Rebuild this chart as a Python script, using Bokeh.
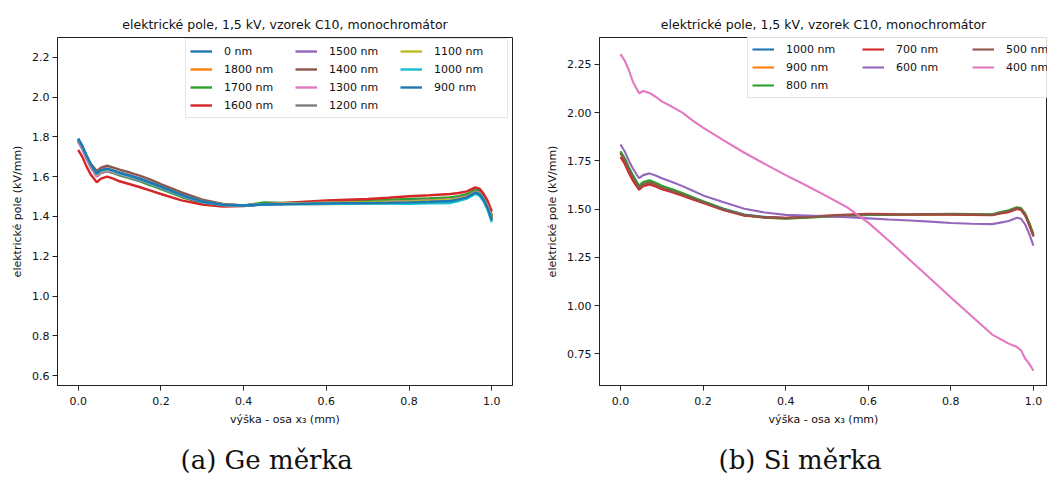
from bokeh.plotting import figure
from bokeh.layouts import row
from bokeh.models import (Legend, LegendItem, FixedTicker, PrintfTickFormatter,
                          Title, Range1d, ColumnDataSource)
from bokeh.embed import file_html
from bokeh.resources import INLINE

# ---------------- data ----------------
X = [0.0, 0.01, 0.02, 0.03, 0.045, 0.055, 0.07, 0.085, 0.1, 0.125, 0.15, 0.175, 0.2,
     0.25, 0.3, 0.35, 0.4, 0.45, 0.5, 0.55, 0.6, 0.65, 0.7, 0.75, 0.8, 0.85, 0.9,
     0.92, 0.94, 0.96, 0.97, 0.98, 0.99, 1.0]

# (a) Ge scale
ge_0nm = [1.790,1.752,1.705,1.662,1.612,1.628,1.636,1.626,1.615,1.600,1.584,1.565,1.545,1.505,1.473,1.458,1.455,1.462,1.465,1.467,1.470,1.471,1.473,1.475,1.478,1.482,1.487,1.494,1.503,1.528,1.522,1.495,1.455,1.395]
ge_1800nm = [1.785,1.748,1.700,1.658,1.608,1.624,1.632,1.622,1.611,1.596,1.580,1.561,1.541,1.501,1.470,1.456,1.454,1.463,1.466,1.469,1.473,1.475,1.478,1.481,1.485,1.489,1.494,1.500,1.510,1.533,1.527,1.500,1.460,1.400]
ge_1700nm = [1.782,1.745,1.697,1.655,1.605,1.620,1.628,1.618,1.607,1.592,1.576,1.557,1.537,1.498,1.467,1.455,1.456,1.470,1.468,1.470,1.474,1.477,1.480,1.483,1.488,1.491,1.496,1.502,1.512,1.535,1.530,1.503,1.462,1.405]
ge_1600nm = [1.735,1.700,1.652,1.612,1.572,1.590,1.600,1.590,1.577,1.562,1.547,1.530,1.513,1.481,1.460,1.450,1.452,1.462,1.468,1.474,1.480,1.484,1.488,1.494,1.502,1.507,1.513,1.518,1.526,1.546,1.540,1.515,1.478,1.425]
ge_1500nm = [1.775,1.738,1.690,1.648,1.600,1.618,1.628,1.620,1.610,1.596,1.581,1.563,1.543,1.503,1.471,1.457,1.455,1.462,1.465,1.467,1.469,1.470,1.472,1.474,1.477,1.481,1.486,1.493,1.502,1.525,1.519,1.492,1.452,1.392]
ge_1400nm = [1.780,1.746,1.702,1.666,1.628,1.645,1.655,1.646,1.636,1.621,1.604,1.585,1.563,1.521,1.485,1.463,1.456,1.461,1.462,1.463,1.463,1.464,1.466,1.468,1.470,1.474,1.480,1.490,1.500,1.524,1.516,1.490,1.450,1.398]
ge_1300nm = [1.778,1.742,1.695,1.652,1.604,1.622,1.632,1.624,1.614,1.600,1.585,1.567,1.547,1.507,1.474,1.458,1.455,1.461,1.464,1.466,1.468,1.469,1.471,1.473,1.476,1.480,1.485,1.492,1.501,1.524,1.518,1.491,1.451,1.390]
ge_1200nm = [1.784,1.748,1.702,1.660,1.612,1.630,1.640,1.631,1.621,1.606,1.590,1.571,1.551,1.510,1.477,1.460,1.456,1.461,1.463,1.465,1.467,1.468,1.470,1.472,1.474,1.478,1.483,1.490,1.499,1.522,1.516,1.489,1.449,1.388]
ge_1100nm = [1.786,1.750,1.703,1.660,1.611,1.627,1.636,1.626,1.616,1.601,1.585,1.566,1.546,1.506,1.474,1.459,1.455,1.462,1.465,1.467,1.469,1.470,1.472,1.474,1.476,1.479,1.484,1.490,1.499,1.522,1.516,1.488,1.446,1.385]
ge_1000nm = [1.788,1.752,1.706,1.663,1.614,1.630,1.638,1.628,1.617,1.602,1.586,1.567,1.547,1.506,1.473,1.458,1.455,1.460,1.462,1.463,1.464,1.464,1.465,1.465,1.464,1.466,1.468,1.478,1.490,1.513,1.505,1.476,1.432,1.372]
ge_900nm = [1.792,1.755,1.708,1.665,1.616,1.633,1.641,1.631,1.620,1.605,1.589,1.570,1.550,1.509,1.475,1.459,1.455,1.460,1.462,1.464,1.466,1.467,1.468,1.469,1.471,1.474,1.478,1.486,1.496,1.520,1.513,1.485,1.442,1.380]

# (b) Si scale
si_1000nm = [1.795,1.760,1.712,1.670,1.617,1.634,1.645,1.632,1.617,1.600,1.580,1.560,1.540,1.502,1.472,1.460,1.454,1.458,1.463,1.467,1.471,1.470,1.470,1.472,1.473,1.471,1.470,1.480,1.488,1.504,1.499,1.470,1.420,1.362]
si_900nm = [1.790,1.755,1.707,1.665,1.612,1.630,1.640,1.628,1.613,1.596,1.577,1.557,1.537,1.498,1.468,1.456,1.452,1.457,1.462,1.466,1.470,1.469,1.469,1.471,1.472,1.470,1.469,1.479,1.487,1.503,1.498,1.469,1.418,1.360]
si_800nm = [1.800,1.765,1.718,1.676,1.622,1.640,1.650,1.637,1.621,1.603,1.583,1.562,1.541,1.500,1.468,1.455,1.450,1.455,1.461,1.466,1.470,1.471,1.472,1.474,1.475,1.474,1.473,1.485,1.494,1.510,1.505,1.478,1.428,1.370]
si_700nm = [1.770,1.735,1.688,1.647,1.600,1.618,1.628,1.617,1.603,1.587,1.569,1.550,1.531,1.494,1.466,1.457,1.455,1.461,1.467,1.472,1.476,1.474,1.472,1.473,1.472,1.470,1.468,1.477,1.484,1.500,1.495,1.466,1.416,1.358]
si_600nm = [1.835,1.800,1.752,1.710,1.660,1.676,1.685,1.674,1.660,1.640,1.619,1.595,1.571,1.535,1.502,1.482,1.470,1.466,1.462,1.458,1.452,1.446,1.441,1.435,1.428,1.424,1.422,1.430,1.438,1.455,1.450,1.420,1.370,1.310]
si_500nm = [1.788,1.752,1.705,1.663,1.610,1.628,1.638,1.626,1.611,1.594,1.575,1.555,1.535,1.497,1.468,1.457,1.453,1.458,1.464,1.469,1.473,1.472,1.472,1.474,1.474,1.472,1.470,1.481,1.489,1.506,1.500,1.472,1.422,1.364]
si_400nm = [2.303,2.270,2.222,2.160,2.100,2.112,2.102,2.082,2.058,2.030,2.000,1.958,1.922,1.856,1.792,1.733,1.676,1.622,1.566,1.508,1.430,1.336,1.238,1.140,1.042,0.946,0.850,0.826,0.803,0.785,0.768,0.725,0.698,0.662]

ge_labels = ["0 nm", "1800 nm", "1700 nm", "1600 nm", "1500 nm", "1400 nm",
             "1300 nm", "1200 nm", "1100 nm", "1000 nm", "900 nm"]
ge_series = [ge_0nm, ge_1800nm, ge_1700nm, ge_1600nm, ge_1500nm, ge_1400nm,
             ge_1300nm, ge_1200nm, ge_1100nm, ge_1000nm, ge_900nm]
si_labels = ["1000 nm", "900 nm", "800 nm", "700 nm", "600 nm", "500 nm", "400 nm"]
si_series = [si_1000nm, si_900nm, si_800nm, si_700nm, si_600nm, si_500nm, si_400nm]

x_ticks = [0.0, 0.2, 0.4, 0.6, 0.8, 1.0]
ge_y_ticks = [0.6, 0.8, 1.0, 1.2, 1.4, 1.6, 1.8, 2.0, 2.2]
si_y_ticks = [0.75, 1.00, 1.25, 1.50, 1.75, 2.00, 2.25]

TAB10 = ["#1f77b4", "#ff7f0e", "#2ca02c", "#d62728", "#9467bd",
         "#8c564b", "#e377c2", "#7f7f7f", "#bcbd22", "#17becf"]

TITLE = "elektrické pole, 1,5 kV, vzorek C10, monochromátor"
XLABEL = "výška - osa x₃ (mm)"
YLABEL = "elektrické pole (kV/mm)"
FONT = "DejaVu Sans"


def make_panel(width, height, xr, yr, yticks, yfmt, borders, caption, cap_offset, ylab_standoff):
    p = figure(width=width, height=height, output_backend="svg", toolbar_location=None,
               x_range=Range1d(*xr), y_range=Range1d(*yr),
               min_border_left=borders[0], min_border_right=borders[1],
               min_border_top=borders[2], min_border_bottom=borders[3])
    p.title.text = TITLE
    p.title.align = "center"
    p.title.text_font = FONT
    p.title.text_font_size = "12.5px"
    p.title.text_font_style = "normal"
    p.title.text_color = "#111111"
    p.title.standoff = 11
    p.grid.visible = False
    p.outline_line_color = "#222222"
    p.outline_line_width = 1
    p.background_fill_color = "white"
    p.border_fill_color = "white"
    for ax in (p.xaxis[0], p.yaxis[0]):
        ax.axis_line_color = "#222222"
        ax.major_tick_line_color = "#222222"
        ax.major_tick_out = 5
        ax.major_tick_in = 0
        ax.minor_tick_line_color = None
        ax.major_label_text_font = FONT
        ax.major_label_text_font_size = "11px"
        ax.major_label_text_color = "#111111"
        ax.axis_label_text_font = FONT
        ax.axis_label_text_font_size = "11px"
        ax.axis_label_text_font_style = "normal"
        ax.axis_label_text_color = "#111111"
    p.yaxis[0].major_label_standoff = 3
    p.xaxis[0].major_label_standoff = 6
    p.xaxis[0].ticker = FixedTicker(ticks=x_ticks)
    p.xaxis[0].formatter = PrintfTickFormatter(format="%.1f")
    p.yaxis[0].ticker = FixedTicker(ticks=yticks)
    p.yaxis[0].formatter = PrintfTickFormatter(format=yfmt)
    p.xaxis[0].axis_label = XLABEL
    p.yaxis[0].axis_label = YLABEL
    p.xaxis[0].axis_label_standoff = 5
    p.yaxis[0].axis_label_standoff = ylab_standoff
    spacer = Title(text=" ", text_font_size="11px", standoff=0)
    p.add_layout(spacer, "below")
    cap = Title(text=caption, align="left", text_font="DejaVu Serif",
                text_font_size="26px", text_font_style="normal",
                text_color="#111111", standoff=0, offset=cap_offset)
    p.add_layout(cap, "below")
    return p


def style_legend(leg, loc, lw):
    leg.location = loc
    leg.padding = 4
    leg.spacing = 2
    leg.ncols = 3
    leg.label_text_font = FONT
    leg.label_text_font_size = "11px"
    leg.label_text_color = "#111111"
    leg.glyph_width = 22
    leg.glyph_height = 16
    leg.label_height = 16
    leg.label_standoff = 12
    leg.label_width = lw
    leg.border_line_color = "#cccccc"
    leg.background_fill_alpha = 0.85


# ---------------- (a) Ge ----------------
pa = make_panel(530, 478, (-0.05, 1.05), (0.55, 2.30), ge_y_ticks, "%.1f",
                (57, 18, 33, 93), "(a) Ge měrka", 123, 5)
items_a = []
for i, (lab, ys) in enumerate(zip(ge_labels, ge_series)):
    src = ColumnDataSource(dict(x=X, y=ys))
    r = pa.line("x", "y", source=src, line_color=TAB10[i % 10], line_width=2.4)
    items_a.append(LegendItem(label=lab, renderers=[r]))
leg_a = Legend(items=items_a)
style_legend(leg_a, (128, 267), 69)
pa.add_layout(leg_a, "center")

# ---------------- (b) Si ----------------
pb = make_panel(517, 478, (-0.0508, 1.034), (0.586, 2.389), si_y_ticks, "%.2f",
                (69, 0, 37, 90), "(b) Si měrka", 119, 5)
items_b = []
for i, (lab, ys) in enumerate(zip(si_labels, si_series)):
    src = ColumnDataSource(dict(x=X, y=ys))
    r = pb.line("x", "y", source=src, line_color=TAB10[i % 10], line_width=2.1)
    items_b.append(LegendItem(label=lab, renderers=[r]))
# blank filler so columns read 3 / 2 / 2 as in the original
blank_src = ColumnDataSource(dict(x=[X[0]], y=[si_1000nm[0]]))
blank = pb.line("x", "y", source=blank_src, line_alpha=0)
items_b.insert(5, LegendItem(label=" ", renderers=[blank]))
leg_b = Legend(items=items_b)
style_legend(leg_b, (148, 287), 74)
pb.add_layout(leg_b, "center")

layout = row(pa, pb, spacing=0)
open("out.html", "w").write(file_html(layout, INLINE))
